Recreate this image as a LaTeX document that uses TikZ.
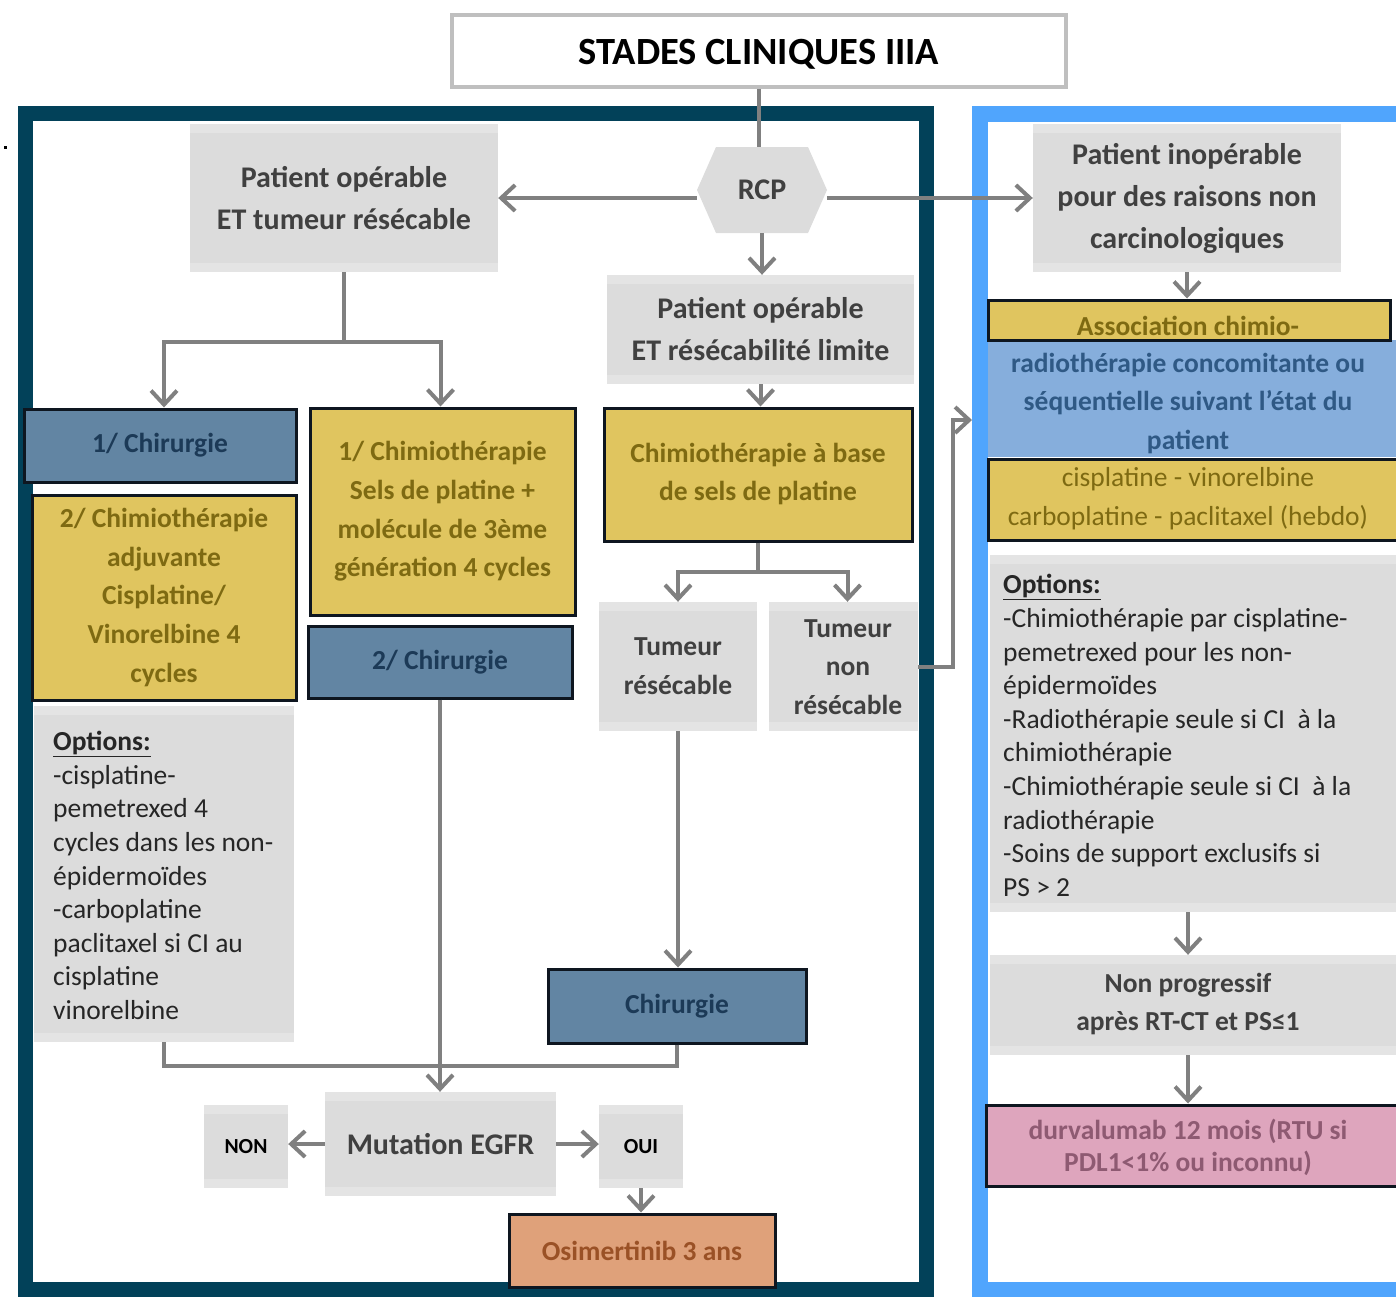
\documentclass[tikz,border=0pt]{standalone}
\usepackage{fontspec}
\setmainfont{Carlito}
\usetikzlibrary{arrows.meta}

\definecolor{frameD}{HTML}{024159}
\definecolor{frameB}{HTML}{50A5FD}
\definecolor{grayF}{HTML}{DCDCDC}
\definecolor{grayL}{HTML}{E4E4E4}
\definecolor{grayT}{HTML}{404040}
\definecolor{blueF}{HTML}{6285A3}
\definecolor{blueT}{HTML}{1C3A57}
\definecolor{yelF}{HTML}{E0C55F}
\definecolor{yelT}{HTML}{7E6A12}
\definecolor{lbF}{HTML}{86AEDC}
\definecolor{lbT}{HTML}{2F5985}
\definecolor{pinkF}{HTML}{DEA5BD}
\definecolor{pinkT}{HTML}{8E5A72}
\definecolor{oraF}{HTML}{DFA17A}
\definecolor{oraT}{HTML}{9A5126}
\definecolor{arrC}{HTML}{808080}
\definecolor{edgeK}{HTML}{0E1620}
\definecolor{titleE}{HTML}{BFBFBF}
\definecolor{optT}{HTML}{262626}

% box from corner (x1,y1) to corner (x2,y2), y growing downwards
\newcommand\rbox[7][]{%
  \node[#1, minimum width={(#5)-(#3)}, minimum height={(#6)-(#4)}]
    (#2) at ({((#3)+(#5))/2},{((#4)+(#6))/2}) {#7};}

\newcommand\fzT{\bfseries\fontsize{38.5}{44}\selectfont}
\newcommand\fzA{\bfseries\fontsize{30}{42}\selectfont}
\newcommand\fzM{\bfseries\fontsize{27.5}{39}\selectfont}
\newcommand\fzO{\fontsize{27.5}{33.6}\selectfont}

\tikzset{
  base/.style={inner sep=0, align=center, font=\fzM},
  gbox/.style={base, fill=grayF, text=grayT,
    path picture={
      \fill[grayL] (path picture bounding box.north west)
        rectangle ([yshift=-9pt]path picture bounding box.north east);
      \fill[grayL] ([yshift=9pt]path picture bounding box.south west)
        rectangle (path picture bounding box.south east);}},
  bbox/.style={base, fill=blueF, draw=edgeK, line width=3pt, text=blueT},
  ybox/.style={base, fill=yelF, draw=edgeK, line width=3pt, text=yelT},
  obox/.style={base, fill=oraF, draw=edgeK, line width=3pt, text=oraT},
  pbox/.style={base, fill=pinkF, draw=edgeK, line width=3pt, text=pinkT},
  titlebox/.style={base, fill=white, draw=titleE, line width=3.5pt, text=black,
    font=\fzT, text height=27pt, text depth=0pt},
  optx/.style={inner sep=0, align=left, font=\fzO, text=optT},
  ln/.style={draw=arrC, line width=4pt},
  arr/.style={ln, -{Straight Barb[length=14pt,width=26pt]}},
}

\begin{document}
\begin{tikzpicture}[x=1pt,y=-1pt]
\useasboundingbox (0,0) rectangle (1396,1296);
\clip (0,0) rectangle (1396,1296);

% the two frames
\draw[draw=frameD, line width=15pt] (25.5,113.5) rectangle (926,1289.5);
\draw[draw=frameB, line width=16pt] (980,114) rectangle (1420,1289.5);

\node[fill=black, inner sep=0, minimum size=3pt] (dot) at (5,147) {};

% title
\rbox[titlebox]{title}{452}{15}{1066}{87}{STADES CLINIQUES IIIA}

% RCP hexagon
\fill[grayF] (697,190) -- (716,147) -- (808,147) -- (827,190) -- (808,233) -- (716,233) -- cycle;
\node[base, text=grayT, font=\bfseries\fontsize{30}{36}\selectfont,
      minimum width=130, minimum height=86] (rcp) at (762,190) {RCP};

% left / operable branch
\rbox[gbox, font=\fzA]{pop}{190}{124}{498}{272}{Patient opérable\\ET tumeur résécable}
\rbox[gbox, font=\fzA]{plim}{607}{275}{914}{384}{Patient opérable\\ET résécabilité limite}
\rbox[bbox]{chirA}{24}{409}{296}{482}{1/ Chirurgie}
\rbox[ybox, font=\bfseries\fontsize{27.5}{38.75}\selectfont]{chimadj}{32}{495}{296}{700}%
  {2/ Chimiothérapie\\adjuvante\\Cisplatine/\\Vinorelbine 4\\cycles}
\rbox[gbox]{optL}{34}{706}{294}{1042}{}
\node[optx, anchor=west] (optLt) at (53,875.5)
  {\underline{\textbf{Options:}}\\-cisplatine-\\pemetrexed 4\\cycles dans les non-\\épidermoïdes\\-carboplatine\\paclitaxel si CI au\\cisplatine\\vinorelbine};
\rbox[ybox, font=\bfseries\fontsize{27.5}{38.7}\selectfont]{chim1}{310}{408}{575}{615}%
  {1/ Chimiothérapie\\Sels de platine +\\molécule de 3ème\\génération 4 cycles}
\rbox[bbox]{chirB}{308}{626}{572}{698}{2/ Chirurgie}
\rbox[ybox, font=\bfseries\fontsize{27.5}{38}\selectfont]{chbase}{604}{408}{912}{541}%
  {Chimiothérapie à base\\de sels de platine}
\rbox[gbox]{tres}{599}{602}{757}{731}{Tumeur\\résécable}
\rbox[gbox]{tnr}{769}{602}{918}{731}{}
\node[base, text=grayT, font=\bfseries\fontsize{27.5}{38.5}\selectfont] (tnrt) at (848,667)
  {Tumeur\\non\\résécable};
\rbox[bbox]{chirC}{548}{969}{806}{1043}{Chirurgie}
\rbox[gbox, font=\bfseries\fontsize{30}{36}\selectfont]{mut}{325}{1092}{556}{1196}{Mutation EGFR}
\rbox[gbox, text=black, font=\bfseries\fontsize{21.5}{26}\selectfont]{non}{204}{1105}{288}{1188}{NON}
\rbox[gbox, text=black, font=\bfseries\fontsize{21.5}{26}\selectfont]{oui}{599}{1105}{683}{1188}{OUI}
\rbox[obox]{osi}{509}{1214}{775}{1287}{Osimertinib 3 ans}

% right / inoperable branch
\rbox[gbox, font=\fzA]{pinop}{1033}{124}{1341}{272}{Patient inopérable\\pour des raisons non\\carcinologiques}
\rbox[base, fill=lbF]{lbb}{988}{340}{1396}{457}{}
\rbox[ybox]{assoc}{988}{300}{1390}{340}{}
\node[base, text=yelT] (assoct) at (1188,326) {Association chimio-};
\node[base, text=lbT, font=\bfseries\fontsize{27.5}{38.5}\selectfont] (lbt) at (1188,403.5)
  {radiothérapie concomitante ou\\séquentielle suivant l’état du\\patient};
\rbox[ybox]{cisp}{988}{459}{1402}{540}{}
\node[base, text=yelT, font=\fontsize{27.5}{39}\selectfont] (cispt) at (1188,499)
  {cisplatine - vinorelbine\\carboplatine - paclitaxel (hebdo)};
\rbox[gbox]{optR}{990}{555}{1396}{912}{}
\node[optx, anchor=west] (optRt) at (1003,735.5)
  {\underline{\textbf{Options:}}\\-Chimiothérapie par cisplatine-\\pemetrexed pour les non-\\épidermoïdes\\-Radiothérapie seule si CI\ \ à la\\chimiothérapie\\-Chimiothérapie seule si CI\ \ à la\\radiothérapie\\-Soins de support exclusifs si\\PS > 2};
\rbox[gbox]{nprog}{990}{955}{1396}{1055}{}
\node[base, text=grayT, font=\bfseries\fontsize{27.5}{38}\selectfont] (nprogt) at (1188,1004)
  {Non progressif\\après RT-CT et PS≤1};
\rbox[pbox]{durva}{986}{1105}{1402}{1186}{}
\node[base, text=pinkT, font=\bfseries\fontsize{27.5}{32}\selectfont] (durvat) at (1188,1147)
  {durvalumab 12 mois (RTU si\\PDL1<1\% ou inconnu)};

% connectors
\coordinate (j1) at (344,342);
\coordinate (j2) at (758,572);
\coordinate (j3) at (440,1066);
\coordinate (bin) at (972,420);

\draw[ln] (title.south) -- (title.south |- rcp.north);
\draw[arr] ([yshift=-8pt]rcp.west) -- ([yshift=-8pt]rcp.west -| pop.east);
\draw[arr] ([yshift=-8pt]rcp.east) -- ([yshift=-8pt]rcp.east -| pinop.west);
\draw[arr] (rcp.south) -- (rcp.south |- plim.north);

\draw[ln] (pop.south) -- (j1);
\draw[arr] (j1) -| (chimadj.north |- chirA.north);
\draw[arr] (j1) -| ([xshift=-2pt]chim1.north);

\draw[arr] (plim.south) -- (plim.south |- chbase.north);
\draw[ln] (chbase.south) -- (j2);
\draw[arr] (j2) -| (tres.north);
\draw[arr] (j2) -| ([xshift=4pt]tnr.north);
\draw[arr] (tnr.east) -- ++(35,0) |- (bin);

\draw[arr] (tres.south) -- (tres.south |- chirC.north);
\draw[arr] (chirB.south) -- (chirB.south |- mut.north);
\draw[ln] (optL.south) |- (j3);
\draw[ln] (chirC.south) |- (j3);
\draw[arr] (mut.west) -- (mut.west -| non.east);
\draw[arr] (mut.east) -- (mut.east -| oui.west);
\draw[arr] (oui.south) -- (oui.south |- osi.north);

\draw[arr] (pinop.south) -- (pinop.south |- assoc.north);
\draw[arr] (optR.south -| nprogt.north) -- (nprog.north -| nprogt.north);
\draw[arr] (nprog.south -| durvat.north) -- (durva.north -| durvat.north);
\end{tikzpicture}
\end{document}
